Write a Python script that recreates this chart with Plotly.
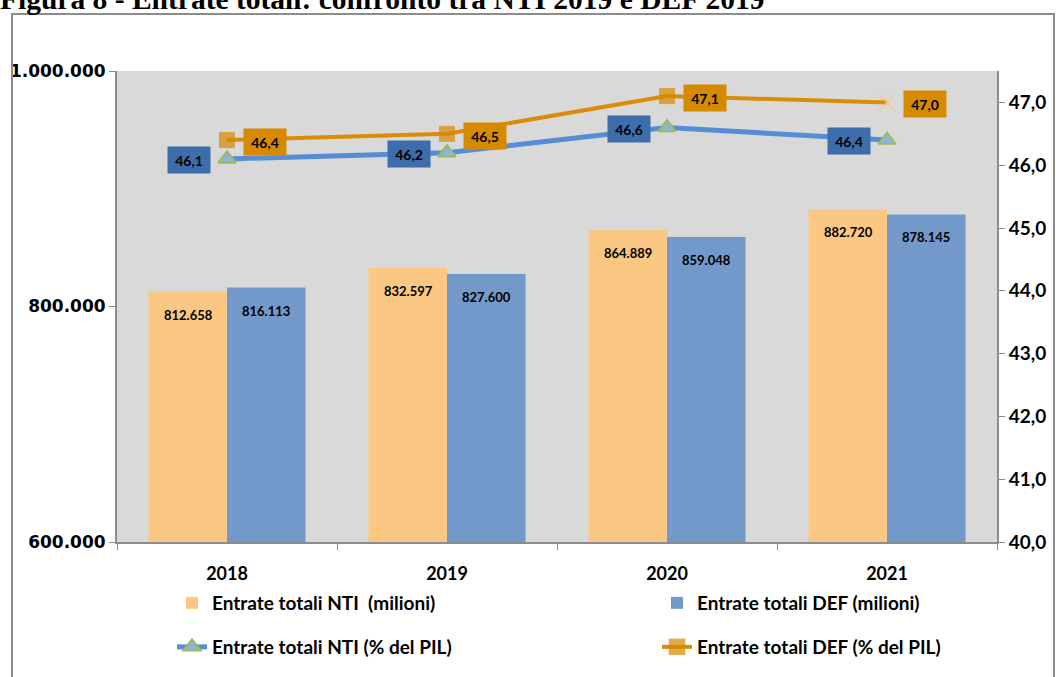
import plotly.graph_objects as go

# ---------------- data ----------------
years = ["2018", "2019", "2020", "2021"]
nti_milioni = [812658, 832597, 864889, 882720]
def_milioni = [816113, 827600, 859048, 878145]
nti_pil = [46.1, 46.2, 46.6, 46.4]
def_pil = [46.4, 46.5, 47.1, 47.0]

left_ticks = [600000, 800000, 1000000]
right_ticks = [40, 41, 42, 43, 44, 45, 46, 47]

title_text = "Figura 8 - Entrate totali: confronto tra NTI 2019 e DEF 2019"
names = ["Entrate totali NTI  (milioni)", "Entrate totali DEF (milioni)",
         "Entrate totali NTI (% del PIL)", "Entrate totali DEF (% del PIL)"]

# ---------------- geometry helpers ----------------
W, H = 1056, 677
L, R, T, B = 117, 997, 71, 542


def px(x):
    return (x - L) / (R - L)


def py(y):
    return (B - y) / (B - T)


def it_num(v):
    return f"{v:,}".replace(",", ".")


def it_pct(v):
    return f"{v:.1f}".replace(".", ",")


C_NTI_BAR = "#FAC882"
C_DEF_BAR = "#7399CA"
C_NTI_LINE = "#558ED5"
C_DEF_LINE = "#D98C08"
C_NTI_BOX = "#3D6DAB"
C_DEF_BOX = "#D68A00"
AXIS = "#8C8C8C"
LAB = "Lato"

fig = go.Figure()

fig.add_trace(go.Bar(x=years, y=nti_milioni, name=names[0], marker_color=C_NTI_BAR,
                     marker_line_width=0, legend="legend"))
fig.add_trace(go.Bar(x=years, y=def_milioni, name=names[1], marker_color=C_DEF_BAR,
                     marker_line_width=0, legend="legend2"))

fig.add_trace(go.Scatter(x=years, y=nti_pil, yaxis="y2", name=names[2], mode="lines+markers",
                         line=dict(color=C_NTI_LINE, width=5),
                         marker=dict(symbol="triangle-up", size=15, color="#8EB4E3",
                                     line=dict(color="#9BBB59", width=2)),
                         legend="legend3"))
fig.add_trace(go.Scatter(x=years, y=def_pil, yaxis="y2", name=names[3], mode="lines+markers",
                         line=dict(color=C_DEF_LINE, width=4),
                         marker=dict(symbol=["square", "square", "square", "x-thin"], size=[15, 15, 15, 16],
                                     color=C_DEF_BOX,
                                     line=dict(color=[C_DEF_BOX, C_DEF_BOX, C_DEF_BOX, "#F0C890"],
                                               width=[1, 1, 1, 2])),
                         legend="legend4"))

annotations = []
bold13 = dict(family=LAB, size=13, color="black", weight="bold")
bold14 = dict(family=LAB, size=14, color="black", weight="bold")
# bar value labels (x given as category index)
for i, v in enumerate(nti_milioni):
    annotations.append(dict(x=i, y=v, xref="x", yref="y", text=it_num(v), showarrow=False,
                            xshift=-39, yshift=-23, font=bold13))
for i, v in enumerate(def_milioni):
    annotations.append(dict(x=i, y=v, xref="x", yref="y", text=it_num(v), showarrow=False,
                            xshift=39, yshift=-23, font=bold13))
# line value labels
for i, v in enumerate(nti_pil):
    annotations.append(dict(x=i, y=v, xref="x", yref="y2", text=it_pct(v), showarrow=False,
                            xshift=-38, yshift=-1, bgcolor=C_NTI_BOX, width=34, height=18, borderpad=4,
                            font=bold14))
for i, v in enumerate(def_pil):
    annotations.append(dict(x=i, y=v, xref="x", yref="y2", text=it_pct(v), showarrow=False,
                            xshift=38, yshift=-2, bgcolor=C_DEF_BOX, width=34, height=18, borderpad=4,
                            font=bold14))
# title (partly cut off at the top, as in the source)
annotations.append(dict(x=px(-2), y=py(17), xref="paper", yref="paper", xanchor="left", yanchor="bottom",
                        text=title_text, showarrow=False,
                        font=dict(family="Liberation Serif", size=29.5, color="black", weight="bold")))

legend_common = dict(orientation="v", bgcolor="rgba(0,0,0,0)", borderwidth=0, yanchor="middle",
                     xanchor="left", font=dict(family=LAB, size=19, color="black", weight="bold"),
                     itemclick=False, itemdoubleclick=False)

fig.update_layout(
    width=W, height=H,
    margin=dict(l=L, r=W - R, t=T, b=H - B, autoexpand=False),
    paper_bgcolor="white", plot_bgcolor="#D9D9D9",
    separators=",.",
    barmode="group", bargap=0.286, bargroupgap=0,
    showlegend=True,
    legend=dict(x=px(172), y=py(603), **legend_common),
    legend2=dict(x=px(657), y=py(603), **legend_common),
    legend3=dict(x=px(172), y=py(647), **legend_common),
    legend4=dict(x=px(657), y=py(647), **legend_common),
    xaxis=dict(type="category", range=[-0.5, len(years) - 0.5], tickson="boundaries", ticks="outside",
               ticklen=6, tickcolor=AXIS, tickangle=0,
               showline=True, linecolor=AXIS, linewidth=2, showgrid=False,
               tickfont=dict(family=LAB, size=18, color="black", weight="bold"),
               ticklabelstandoff=14),
    yaxis=dict(range=[600000, 1000000], tickvals=left_ticks, tickformat=",d", ticks="outside",
               ticklen=6, tickcolor=AXIS, showline=True, linecolor=AXIS, linewidth=2,
               showgrid=False, zeroline=False,
               tickfont=dict(family="DejaVu Sans", size=17, color="black", weight="bold")),
    yaxis2=dict(range=[40, 47.5], tickvals=right_ticks, tickformat=".1f", overlaying="y", side="right",
                ticks="outside", ticklen=6, tickcolor=AXIS, showline=True, linecolor=AXIS, linewidth=2,
                showgrid=False, zeroline=False,
                tickfont=dict(family=LAB, size=19, color="black", weight="bold")),
    annotations=annotations,
    shapes=[dict(type="rect", xref="paper", yref="paper", x0=px(12), x1=px(1054), y0=py(720), y1=py(14),
                 line=dict(color="#8C8C8C", width=2), fillcolor="rgba(0,0,0,0)", layer="above")],
)

fig.write_html("out.html", config={"displayModeBar": False},
               post_script="document.body.style.margin='0';document.body.style.overflow='hidden';")
